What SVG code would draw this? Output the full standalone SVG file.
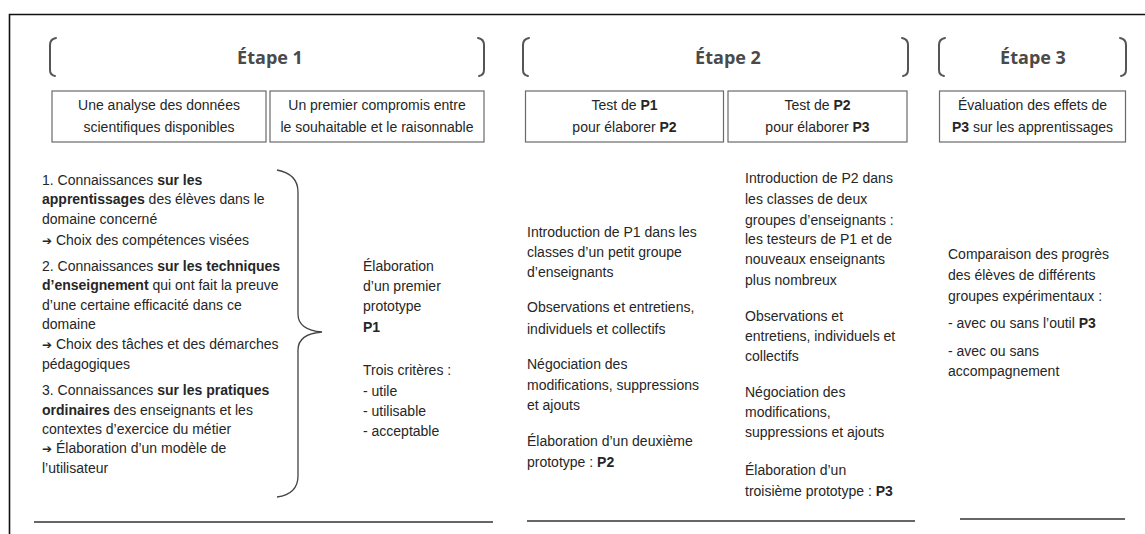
<svg xmlns="http://www.w3.org/2000/svg" width="1145" height="534" viewBox="0 0 1145 534">
<style>
.t{font-family:"Liberation Sans",Arial,sans-serif;font-size:14px;fill:#262626}
.c{text-anchor:middle}
.b{font-weight:bold}
.h{font-family:"Open Sans","DejaVu Sans",sans-serif;font-weight:bold;font-size:18px;fill:#4a4a4a;text-anchor:middle}
.box{fill:#fff;stroke:#6a6a6a;stroke-width:1.2}
.br{fill:none;stroke:#555;stroke-width:2;stroke-linecap:round}
.ar{font-family:"DejaVu Sans",sans-serif;font-size:12px;font-weight:bold}
.rule{stroke:#666;stroke-width:2.2}
</style>
<rect x="0" y="0" width="1145" height="534" fill="#fff"/>
<path d="M9.5,534 V14.5 H1145" fill="none" stroke="#111" stroke-width="1.6"/>

<g id="etape1">
<path class="br" d="M56,38 Q50,39 50,45 V70 Q50,75 55,76"/>
<path class="br" d="M478,38 Q484,39 484,45 V70 Q484,75 479,76"/>
<text class="h" x="270" y="64">Étape 1</text>
</g>
<g id="etape2">
<path class="br" d="M529,38 Q523,39 523,45 V70 Q523,75 528,76"/>
<path class="br" d="M902,38 Q908,39 908,45 V70 Q908,75 903,76"/>
<text class="h" x="728" y="64">Étape 2</text>
</g>
<g id="etape3">
<path class="br" d="M945,38 Q939,39 939,45 V70 Q939,75 944,76"/>
<path class="br" d="M1120,38 Q1126,39 1126,45 V70 Q1126,75 1121,76"/>
<text class="h" x="1033" y="64">Étape 3</text>
</g>

<g id="box-analyse">
<rect class="box" x="52" y="91" width="214" height="51"/>
<text class="t c" x="159" y="110">Une analyse des données</text>
<text class="t c" x="159" y="132">scientifiques disponibles</text>
</g>
<g id="box-compromis">
<rect class="box" x="270" y="91" width="214" height="51"/>
<text class="t c" x="377" y="110">Un premier compromis entre</text>
<text class="t c" x="377" y="132">le souhaitable et le raisonnable</text>
</g>
<g id="box-test-p1">
<rect class="box" x="525.5" y="91" width="198" height="51"/>
<text class="t c" x="624.5" y="110">Test de <tspan class="b">P1</tspan></text>
<text class="t c" x="624.5" y="132">pour élaborer <tspan class="b">P2</tspan></text>
</g>
<g id="box-test-p2">
<rect class="box" x="728" y="91" width="179" height="51"/>
<text class="t c" x="817.5" y="110">Test de <tspan class="b">P2</tspan></text>
<text class="t c" x="817.5" y="132">pour élaborer <tspan class="b">P3</tspan></text>
</g>
<g id="box-evaluation">
<rect class="box" x="939.5" y="91" width="186" height="51"/>
<text class="t c" x="1032.5" y="110">Évaluation des effets de</text>
<text class="t c" x="1032.5" y="132"><tspan class="b">P3</tspan> sur les apprentissages</text>
</g>

<g id="connaissances">
<text class="t" x="42" y="185">1. Connaissances <tspan class="b">sur les</tspan></text>
<text class="t" x="42" y="204"><tspan class="b">apprentissages</tspan> des élèves dans le</text>
<text class="t" x="42" y="224">domaine concerné</text>
<text class="t" x="42" y="245"><tspan class="ar">➔</tspan> Choix des compétences visées</text>
<text class="t" x="42" y="271">2. Connaissances <tspan class="b">sur les techniques</tspan></text>
<text class="t" x="42" y="290"><tspan class="b">d’enseignement</tspan> qui ont fait la preuve</text>
<text class="t" x="42" y="310">d’une certaine efficacité dans ce</text>
<text class="t" x="42" y="329">domaine</text>
<text class="t" x="42" y="349"><tspan class="ar">➔</tspan> Choix des tâches et des démarches</text>
<text class="t" x="42" y="369">pédagogiques</text>
<text class="t" x="42" y="395">3. Connaissances <tspan class="b">sur les pratiques</tspan></text>
<text class="t" x="42" y="415"><tspan class="b">ordinaires</tspan> des enseignants et les</text>
<text class="t" x="42" y="434">contextes d’exercice du métier</text>
<text class="t" x="42" y="453"><tspan class="ar">➔</tspan> Élaboration d’un modèle de</text>
<text class="t" x="42" y="473">l’utilisateur</text>
</g>

<g id="connectors">
<path d="M277,170 Q298,174 298,192 V314 Q298,330 322,332 Q298,334 298,350 V476 Q298,494 277,497" fill="none" stroke="#444" stroke-width="1.3"/>
</g>

<g id="elaboration-p1">
<text class="t" x="363" y="271">Élaboration</text>
<text class="t" x="363" y="291">d’un premier</text>
<text class="t" x="363" y="311">prototype</text>
<text class="t b" x="363" y="332">P1</text>
<text class="t" x="363" y="375">Trois critères :</text>
<text class="t" x="363" y="396">- utile</text>
<text class="t" x="363" y="416">- utilisable</text>
<text class="t" x="363" y="436">- acceptable</text>
</g>

<g id="test-p1-details">
<text class="t" x="527" y="237">Introduction de P1 dans les</text>
<text class="t" x="527" y="257">classes d’un petit groupe</text>
<text class="t" x="527" y="277">d’enseignants</text>
<text class="t" x="527" y="312">Observations et entretiens,</text>
<text class="t" x="527" y="334">individuels et collectifs</text>
<text class="t" x="527" y="369">Négociation des</text>
<text class="t" x="527" y="390">modifications, suppressions</text>
<text class="t" x="527" y="410">et ajouts</text>
<text class="t" x="527" y="446">Élaboration d’un deuxième</text>
<text class="t" x="527" y="467">prototype : <tspan class="b">P2</tspan></text>
</g>

<g id="test-p2-details">
<text class="t" x="745" y="183">Introduction de P2 dans</text>
<text class="t" x="745" y="204">les classes de deux</text>
<text class="t" x="745" y="225">groupes d’enseignants :</text>
<text class="t" x="745" y="244">les testeurs de P1 et de</text>
<text class="t" x="745" y="264">nouveaux enseignants</text>
<text class="t" x="745" y="285">plus nombreux</text>
<text class="t" x="745" y="321">Observations et</text>
<text class="t" x="745" y="341">entretiens, individuels et</text>
<text class="t" x="745" y="361">collectifs</text>
<text class="t" x="745" y="397">Négociation des</text>
<text class="t" x="745" y="417">modifications,</text>
<text class="t" x="745" y="437">suppressions et ajouts</text>
<text class="t" x="745" y="475">Élaboration d’un</text>
<text class="t" x="745" y="496">troisième prototype : <tspan class="b">P3</tspan></text>
</g>

<g id="evaluation-details">
<text class="t" x="948" y="259">Comparaison des progrès</text>
<text class="t" x="948" y="280">des élèves de différents</text>
<text class="t" x="948" y="301">groupes expérimentaux :</text>
<text class="t" x="948" y="328">- avec ou sans l’outil <tspan class="b">P3</tspan></text>
<text class="t" x="948" y="356">- avec ou sans</text>
<text class="t" x="948" y="376">accompagnement</text>
</g>

<g id="rules">
<line class="rule" x1="34" y1="522" x2="493" y2="522"/>
<line class="rule" x1="527" y1="521" x2="915" y2="521"/>
<line class="rule" x1="960" y1="519" x2="1125" y2="519"/>
</g>
</svg>
